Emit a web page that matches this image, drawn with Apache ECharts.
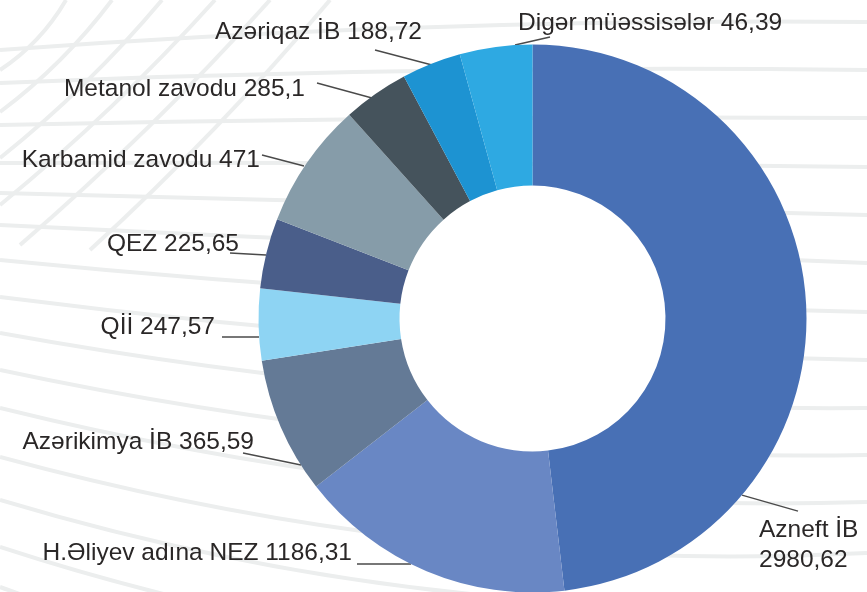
<!DOCTYPE html>
<html>
<head>
<meta charset="utf-8">
<script src="https://cdn.jsdelivr.net/npm/echarts@6/dist/echarts.min.js"></script>
<style>
  html, body { margin: 0; padding: 0; background: #fff; }
  #main { width: 867px; height: 592px; }
</style>
</head>
<body>
<div id="main"></div>
<script>
// müəssisələr, saat əqrəbi istiqamətində yuxarıdan başlayaraq
const names = ['Azneft İB', 'H.Əliyev adına NEZ', 'Azərikimya İB', 'Qİİ', 'QEZ',
               'Karbamid zavodu', 'Metanol zavodu', 'Azəriqaz İB', 'Digər müəssisələr'];
const amounts = [2980.62, 1186.31, 365.59, 247.57, 225.65, 471, 285.1, 188.72, 46.39];
// the source donut is not drawn proportional to the amounts,
// so the slice sizes (degrees) are read off the picture
const sliceDegrees = [173.4, 58.9, 29, 15.2, 14.9, 26.8, 14, 12.6, 15.4];

const colors = ['#4870b5', '#6987c4', '#647a96', '#8ed4f3', '#4a5e8a',
                '#869ca9', '#45535c', '#1d93d2', '#2ea9e2'];

// label anchor + leader line for each slice (same order as names)
const labelSpots = [
    { x: 759, y: 545, align: 'left',  line: [[742, 495], [798, 511]], wrap: true },
    { x: 352, y: 553, align: 'right', line: [[357, 564], [411, 564]] },
    { x: 254, y: 442, align: 'right', line: [[243, 453], [301, 465]] },
    { x: 215, y: 327, align: 'right', line: [[222, 337], [259, 337]] },
    { x: 239, y: 244, align: 'right', line: [[230, 253], [266, 255]] },
    { x: 260, y: 160, align: 'right', line: [[262, 155], [304, 166]] },
    { x: 305, y: 89,  align: 'right', line: [[317, 83], [372, 98]] },
    { x: 422, y: 32,  align: 'right', line: [[375, 50], [432, 65]] },
    { x: 518, y: 23,  align: 'left',  line: [[550, 37], [515, 45]] }
];

// decorative background mesh: [left y, right y, sag]
const bgLines = [
    [50, 22, -18], [83, 70, -12], [125, 118, -6], [163, 167, -3], [193, 215, -1],
    [225, 263, 2], [260, 312, 17], [297, 360, 24], [333, 408, 41], [370, 455, 50],
    [408, 502, 60], [457, 553, 70], [500, 600, 80], [547, 650, 90], [587, 700, 100]
];
const bgDiagonals = [
    [0, 70, 66, 0], [0, 112, 112, 0], [0, 158, 162, 0], [0, 205, 215, 0], [20, 245, 270, 0], [90, 250, 330, 0]
];

function fmt(v) {
    return String(v).replace('.', ',');
}

const graphics = [];
bgLines.forEach(function (l) {
    graphics.push({
        type: 'bezierCurve',
        shape: { x1: 0, y1: l[0], x2: 867, y2: l[1], cpx1: 433, cpy1: (l[0] + l[1]) / 2 + l[2] },
        style: { stroke: '#eceeee', lineWidth: 4, fill: null },
        silent: true, z: 0
    });
});
bgDiagonals.forEach(function (d) {
    graphics.push({
        type: 'bezierCurve',
        shape: { x1: d[0], y1: d[1], x2: d[2], y2: d[3], cpx1: (d[0] + d[2]) / 2 + 8, cpy1: (d[1] + d[3]) / 2 + 8 },
        style: { stroke: '#eceeee', lineWidth: 4, fill: null },
        silent: true, z: 0
    });
});
// white hole of the donut hides the mesh
graphics.push({
    type: 'circle',
    shape: { cx: 532.5, cy: 318.5, r: 134 },
    style: { fill: '#ffffff' },
    silent: true, z: 1
});

const chart = echarts.init(document.getElementById('main'), null, { renderer: 'canvas' });
chart.setOption({
    animation: false,
    backgroundColor: '#ffffff',
    graphic: graphics,
    series: [{
        type: 'pie',
        z: 2,
        center: [532.5, 318.5],
        radius: [133, 274],
        startAngle: 90,
        clockwise: true,
        avoidLabelOverlap: false,
        emphasis: { disabled: true },
        itemStyle: { borderWidth: 0 },
        label: {
            show: true,
            position: 'outside',
            color: '#2a2727',
            fontFamily: 'Liberation Sans',
            fontSize: 24.5,
            lineHeight: 30,
            formatter: function (p) {
                const i = p.dataIndex;
                return names[i] + (labelSpots[i].wrap ? '\n' : ' ') + fmt(amounts[i]);
            }
        },
        labelLine: {
            show: true,
            lineStyle: { color: '#4a4a4a', width: 1.3 }
        },
        labelLayout: function (params) {
            const s = labelSpots[params.dataIndex];
            return {
                x: s.x,
                y: s.y,
                align: s.align,
                verticalAlign: 'middle',
                labelLinePoints: s.line
            };
        },
        data: names.map(function (n, i) {
            return { name: n, value: sliceDegrees[i], itemStyle: { color: colors[i] } };
        })
    }]
});
</script>
</body>
</html>
